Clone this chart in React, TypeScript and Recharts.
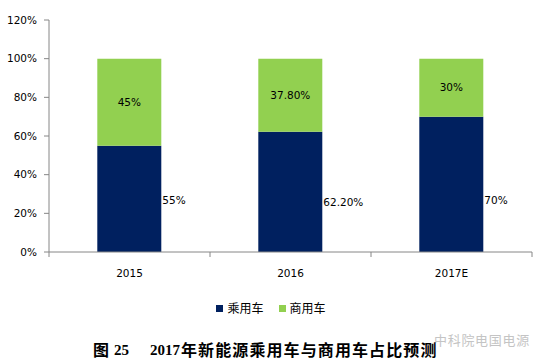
import React from 'react';
import { BarChart, Bar, XAxis, YAxis, LabelList } from 'recharts';

const categories = ['2015', '2016', '2017E'];
const passengerValues = [55, 62.2, 70];
const commercialValues = [45, 37.8, 30];
const passengerLabels = ['55%', '62.20%', '70%'];
const commercialLabels = ['45%', '37.80%', '30%'];
const yTicks = [0, 20, 40, 60, 80, 100, 120];
const seriesNames = ['乘用车', '商用车'];
const seriesColors = ['#00205F', '#92D050'];
const titleParts = ['图', '25', '2017', '年新能源乘用车与商用车占比预测'];
const watermarkText = '中科院电国电源';

const data = categories.map((c, i) => ({
  name: c,
  passenger: passengerValues[i],
  commercial: commercialValues[i],
  pLabel: passengerLabels[i],
  cLabel: commercialLabels[i],
}));

const FONT = '"DejaVu Sans", Verdana, sans-serif';
const AXIS_COLOR = '#868686';
const LABEL_OFFSETS = [52, 50, 52];

const XTick = (props: any) => {
  const { x, y, payload, index } = props;
  const half = payload && payload.offset ? payload.offset : 80.5;
  const last = index === categories.length - 1;
  return (
    <g>
      <line x1={x - half} x2={x - half} y1={y - 8} y2={y - 3} stroke={AXIS_COLOR} />
      {last && <line x1={x + half} x2={x + half} y1={y - 8} y2={y - 3} stroke={AXIS_COLOR} />}
      <text x={x} y={y + 17} textAnchor="middle" fontSize={10.5} fontFamily={FONT} fill="#000">
        {payload.value}
      </text>
    </g>
  );
};

const SideLabel = (props: any) => {
  const { x, y, width, height, value, index } = props;
  const bottom = Number(y) + Number(height);
  return (
    <text
      x={Number(x) + Number(width) + 1}
      y={bottom - LABEL_OFFSETS[index]}
      dominantBaseline="central"
      fontSize={10.5}
      fontFamily={FONT}
      fill="#000"
    >
      {value}
    </text>
  );
};

const titleSpan = (left: number, size: number, family: string, text: string, extra: any = {}) => (
  <span
    style={{
      position: 'absolute',
      left,
      top: 0,
      fontSize: size,
      fontFamily: family,
      whiteSpace: 'nowrap',
      lineHeight: '24px',
      ...extra,
    }}
  >
    {text}
  </span>
);

export default function App() {
  return (
    <div style={{ position: 'absolute', left: 0, top: 0, width: 542, height: 360, background: '#fff', fontFamily: FONT, overflow: 'hidden' }}>
      <BarChart
        width={542}
        height={360}
        data={data}
        margin={{ top: 20, right: 10, left: 0, bottom: 78 }}
        barCategoryGap="30%"
      >
        <XAxis
          dataKey="name"
          axisLine={{ stroke: AXIS_COLOR }}
          tickLine={false}
          tick={<XTick />}
          height={30}
          interval={0}
        />
        <YAxis
          domain={[0, 120]}
          ticks={yTicks}
          tickFormatter={(v: number) => `${v}%`}
          width={49}
          axisLine={{ stroke: AXIS_COLOR }}
          tickLine={{ stroke: AXIS_COLOR }}
          tickSize={5}
          tickMargin={7}
          tick={{ fontSize: 10.5, fontFamily: FONT, fill: '#000' }}
          interval={0}
        />
        <Bar dataKey="passenger" stackId="a" fill={seriesColors[0]} isAnimationActive={false}>
          <LabelList dataKey="pLabel" content={<SideLabel />} />
        </Bar>
        <Bar dataKey="commercial" stackId="a" fill={seriesColors[1]} isAnimationActive={false}>
          <LabelList dataKey="cLabel" position="center" fontSize={10.5} fontFamily={FONT} fill="#000" />
        </Bar>
      </BarChart>
      <div style={{ position: 'absolute', top: 300, left: 0, width: 542, display: 'flex', justifyContent: 'center', fontSize: 12, fontFamily: '"Noto Sans CJK SC", sans-serif', lineHeight: '16px' }}>
        {seriesNames.map((n, i) => (
          <div key={n} style={{ display: 'flex', alignItems: 'center', marginRight: i === 0 ? 15 : 0 }}>
            <span style={{ display: 'inline-block', width: 7, height: 7, background: seriesColors[i], marginRight: 4 }} />
            <span>{n}</span>
          </div>
        ))}
      </div>
      <div style={{ position: 'absolute', top: 331, left: 434, fontSize: 13, letterSpacing: 0.7, fontFamily: '"Noto Sans CJK SC", sans-serif', color: '#c4c4c4', lineHeight: '18px', whiteSpace: 'nowrap' }}>
        {watermarkText}
      </div>
      <div style={{ position: 'absolute', top: 337, left: 0, width: 542, height: 24, fontWeight: 'bold', color: '#000' }}>
        {titleSpan(93, 16, '"Noto Sans CJK SC", serif', titleParts[0])}
        {titleSpan(114, 15, '"Liberation Serif", serif', titleParts[1], { top: 1 })}
        {titleSpan(150, 15, '"Liberation Serif", serif', titleParts[2], { top: 1 })}
        {titleSpan(181, 16, '"Noto Sans CJK SC", serif', titleParts[3], { letterSpacing: 1.1 })}
      </div>
    </div>
  );
}
